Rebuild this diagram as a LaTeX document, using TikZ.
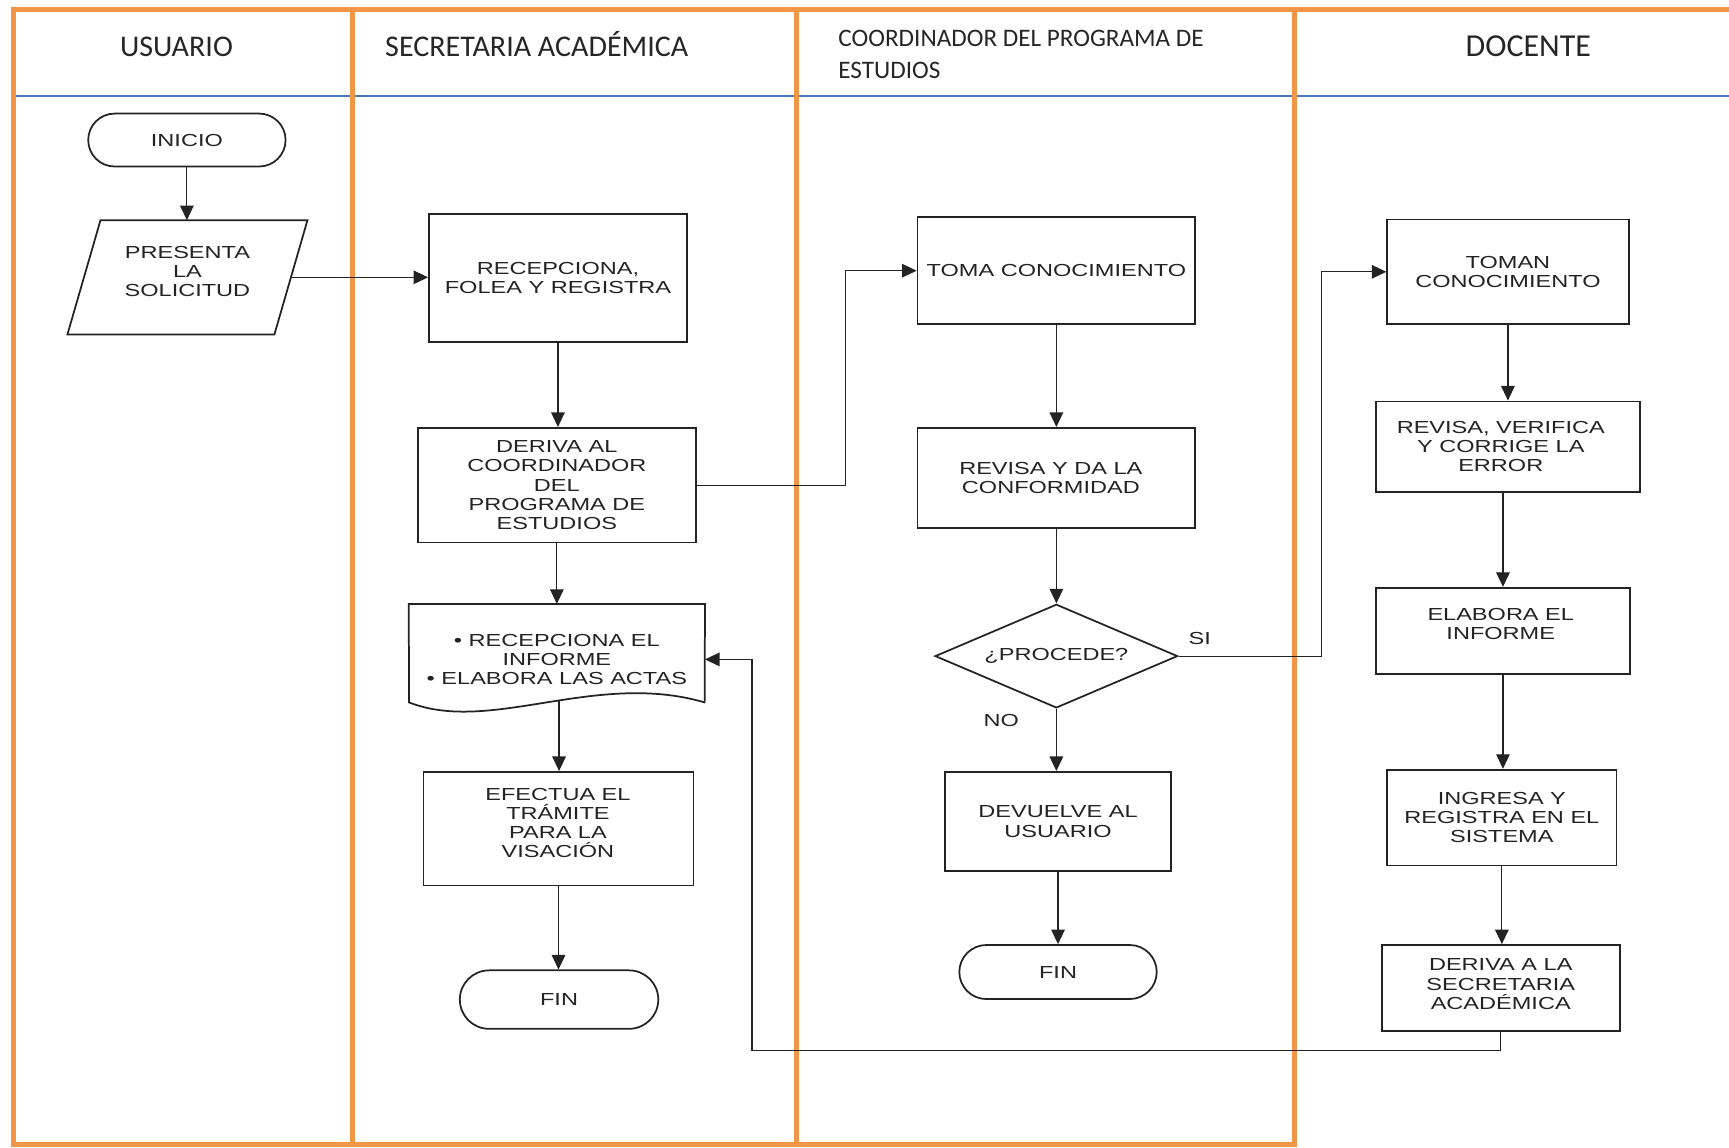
\documentclass[tikz,border=0pt]{standalone}
\usepackage{fontspec}
\setmainfont{Liberation Sans}
\newfontfamily\boxfont[FakeStretch=1.35]{Liberation Sans}
\newfontfamily\headfont{Carlito}
\usetikzlibrary{arrows.meta,shapes.geometric,calc}
\definecolor{lane}{RGB}{240,150,70}
\definecolor{hdrblue}{RGB}{70,120,190}
\definecolor{ink}{RGB}{35,35,35}
\begin{document}
\begin{tikzpicture}[x=0.02cm,y=-0.02cm,
  sz/.style 2 args={minimum width=#1*0.02cm, minimum height=#2*0.02cm},
  btext/.style={inner sep=0pt, align=center, text=ink, font=\boxfont\fontsize{9}{9.9}\selectfont},
  box/.style={btext, draw=ink, line width=0.9pt},
  ghost/.style={btext},
  conn/.style={draw=ink, line width=0.6pt, -{Triangle[length=7.5pt,width=7pt]}},
  lbl/.style={btext},
  lanel/.style={draw=lane, line width=2.6pt, line cap=rect},
  head/.style={inner sep=0pt, text=black!85, font=\headfont\fontsize{15.5}{18}\selectfont},
  headsm/.style={inner sep=0pt, text=black!85, align=left, font=\headfont\fontsize{13}{16.5}\selectfont}
]
\useasboundingbox (0,0) rectangle (1568,1041);

% header separator and lanes
\draw[hdrblue, line width=1.1pt] (12,87) -- (1568,87);
\draw[lanel] (12,1038) -- (12,9) -- (1568,9);
\draw[lanel] (12,1038) -- (1174,1038);
\draw[lanel] (320,9) -- (320,1038);
\draw[lanel] (722,9) -- (722,1038);
\draw[lanel] (1174,9) -- (1174,1038);

% headers
\node[head, anchor=base] (hU) at (160,51) {USUARIO};
\node[head, anchor=base west] (hS) at (349,51) {SECRETARIA ACADÉMICA};
\node[headsm, anchor=north west] (hC) at (760,27) {COORDINADOR DEL PROGRAMA DE\\ESTUDIOS};
\node[head, anchor=base, font=\headfont\fontsize{16.5}{18}\selectfont] (hD) at (1386,51) {DOCENTE};

% USUARIO lane
\node[box, sz={179}{48}, rounded corners=0.48cm] (ini) at (169.5,127) {INICIO};
\node[ghost, sz={187}{103}] (pres) at (170,251.5) {};
\node[btext] (prest) at (170,246.5) {PRESENTA\\LA\\SOLICITUD};
\draw[draw=ink, line width=0.9pt]
  ([xshift=0.3cm]pres.north west) -- ([xshift=0.3cm]pres.north east)
  -- ([xshift=-0.3cm]pres.south east) -- ([xshift=-0.3cm]pres.south west) -- cycle;

% SECRETARIA lane
\node[box, sz={234}{116}] (rec) at (506,252) {RECEPCIONA,\\FOLEA Y REGISTRA};
\node[box, sz={252}{104}] (der1) at (505,440) {DERIVA AL\\COORDINADOR\\DEL\\PROGRAMA DE\\ESTUDIOS};
\node[ghost, sz={268}{100}] (doc) at (505,598) {• RECEPCIONA EL\\INFORME\\• ELABORA LAS ACTAS};
\draw[draw=ink, line width=0.9pt]
  (371,637) -- (doc.north west) -- (doc.north east) -- (639,637)
  .. controls (540,608) and (445,666) .. (371,637) -- cycle;
\coordinate (docb) at (507,636);
\node[box, sz={245}{103}] (efect) at (506.5,751.5) {};
\node[btext] (efectt) at (506,746.5) {EFECTUA EL\\TRÁMITE\\PARA LA\\VISACIÓN};
\node[box, sz={180}{53}, rounded corners=0.53cm] (fin1) at (507,906.5) {FIN};

% COORDINADOR lane
\node[box, sz={252}{97}] (toma) at (958,245.5) {TOMA CONOCIMIENTO};
\node[box, sz={252}{91}] (rev) at (958,433.5) {};
\node[btext] (revt) at (953,433.5) {REVISA Y DA LA\\CONFORMIDAD};
\node[box, shape=diamond, aspect=2.34, sz={220}{94}] (proc) at (958,595) {¿PROCEDE?};
\node[lbl] (si) at (1088,579) {SI};
\node[lbl] (no) at (908,653) {NO};
\node[box, sz={205}{90}] (dev) at (959.5,745) {DEVUELVE AL\\USUARIO};
\node[box, sz={179}{49}, rounded corners=0.49cm] (fin2) at (959.5,881.5) {FIN};

% DOCENTE lane
\node[box, sz={219}{95}] (tomn) at (1367.5,246.5) {TOMAN\\CONOCIMIENTO};
\node[box, sz={239}{82}] (rvc) at (1367.5,405) {};
\node[btext] (rvct) at (1361,405) {REVISA, VERIFICA\\Y CORRIGE LA\\ERROR};
\node[box, sz={230}{78}] (elab) at (1363,572) {};
\node[btext] (elabt) at (1361,566) {ELABORA EL\\INFORME};
\node[box, sz={208}{87}] (ingr) at (1362,741.5) {INGRESA Y\\REGISTRA EN EL\\SISTEMA};
\node[box, sz={216}{78}] (der2) at (1361,896) {};
\node[btext] (der2t) at (1361,892.5) {DERIVA A LA\\SECRETARIA\\ACADÉMICA};
\coordinate (ret) at (682,953);

% connectors
\draw[conn] (ini.south) -- (ini.south |- pres.north);
\draw[conn] (pres.east) -- (pres.east -| rec.west);
\draw[conn] (rec.south) -- (rec.south |- der1.north);
\draw[conn] (der1.south) -- (der1.south |- doc.north);
\draw[conn] (docb) -- (docb |- efect.north);
\draw[conn] (efect.south) -- (efect.south |- fin1.north);
\draw[conn] (der1.east) -- ++(135,0) |- (toma.west);
\draw[conn] (toma.south) -- (toma.south |- rev.north);
\draw[conn] (rev.south) -- (proc.north);
\draw[conn] (proc.east) -- ++(130,0) |- (tomn.west);
\draw[conn] (proc.south) -- (proc.south |- dev.north);
\draw[conn] (dev.south) -- (dev.south |- fin2.north);
\draw[conn] (tomn.south) -- (tomn.south |- rvc.north);
\draw[conn] (elab.north |- rvc.south) -- (elab.north);
\draw[conn] (elab.south) -- (elab.south |- ingr.north);
\draw[conn] (ingr.south) -- (ingr.south |- der2.north);
\draw[conn] (der2.south) |- (ret) |- (doc.east);
\end{tikzpicture}
\end{document}
